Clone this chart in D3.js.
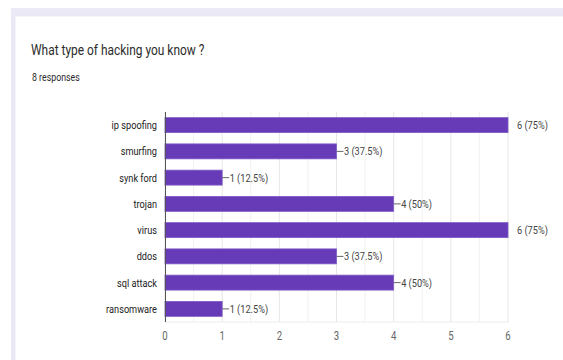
<!DOCTYPE html>
<html>
<head>
<meta charset="utf-8">
<script src="https://cdn.jsdelivr.net/npm/d3@7"></script>
<style>
  body { margin: 0; background: #fff; }
  svg { display: block; font-family: Roboto, Arial, sans-serif; }
</style>
</head>
<body>
<svg width="563" height="360"></svg>
<script>
var categories = ["ip spoofing", "smurfing", "synk ford", "trojan", "virus", "ddos", "sql attack", "ransomware"];
var counts = [6, 3, 1, 4, 6, 3, 4, 1];
var totalResponses = 8;
var xTicks = [0, 1, 2, 3, 4, 5, 6];
var title = "What type of hacking you know ?";

var svg = d3.select("svg");
var squeeze = 0.8; // the picture's text is narrow

// page background and card
svg.append("rect").attr("x", 11).attr("y", 8).attr("width", 552).attr("height", 352).attr("fill", "#ece9f7");
svg.append("rect").attr("x", 15).attr("y", 16).attr("width", 560).attr("height", 360)
  .attr("fill", "#fff").attr("stroke", "#e4e1ef").attr("stroke-width", 0.6);

function label(x, y, txt, size, color, anchor, sq) {
  var g = svg.append("g").attr("transform", "translate(" + x + "," + y + ") scale(" + (sq || squeeze) + ",1)");
  g.append("text").attr("font-size", size).attr("fill", color)
    .attr("text-anchor", anchor || "start").text(txt);
  return g;
}

label(31, 55, title, 15.5, "#2b2b2b", "start", 0.77);
label(32, 81, totalResponses + " responses", 11, "#2b2b2b");

var x = d3.scaleLinear().domain([0, 6]).range([165, 508]);
var y = d3.scaleBand().domain(categories).range([112, 322]).paddingInner(0.43).paddingOuter(0.215);

// gridlines every half unit
var grid = d3.range(0, 6.01, 0.5);
svg.append("g").selectAll("line").data(grid).join("line")
  .attr("x1", function(d) { return x(d); }).attr("x2", function(d) { return x(d); })
  .attr("y1", 112).attr("y2", 322)
  .attr("stroke", function(d) { return d % 1 === 0 ? "#e6e6e6" : "#f1f1f1"; })
  .attr("stroke-width", 1);
svg.append("line").attr("x1", 165).attr("x2", 508).attr("y1", 322).attr("y2", 322).attr("stroke", "#ececec");

// bars
svg.append("g").selectAll("rect").data(categories).join("rect")
  .attr("x", x(0))
  .attr("y", function(d) { return y(d); })
  .attr("width", function(d, i) { return x(counts[i]) - x(0); })
  .attr("height", y.bandwidth())
  .attr("fill", "#673ab7")
  .attr("stroke", "#7f5bc4").attr("stroke-width", 0.8);

// baseline
svg.append("line").attr("x1", 165.5).attr("x2", 165.5).attr("y1", 112).attr("y2", 322).attr("stroke", "#555");

// category labels
categories.forEach(function(c) {
  label(157, y(c) + y.bandwidth() / 2 + 4, c, 11.5, "#222", "end");
});

// value labels
categories.forEach(function(c, i) {
  var v = counts[i];
  var cy = y(c) + y.bandwidth() / 2;
  var txt = v + " (" + (v / totalResponses * 100) + "%)";
  if (v === 6) {
    label(x(v) + 9, cy + 4, txt, 11.5, "#444");
  } else {
    svg.append("line").attr("x1", x(v)).attr("x2", x(v) + 7).attr("y1", cy).attr("y2", cy)
      .attr("stroke", "#666").attr("stroke-width", 1);
    label(x(v) + 7.5, cy + 4, txt, 11.5, "#444");
  }
});

// x tick labels
xTicks.forEach(function(t) {
  label(x(t), 340, t, 12, "#666", "middle");
});
</script>
</body>
</html>
